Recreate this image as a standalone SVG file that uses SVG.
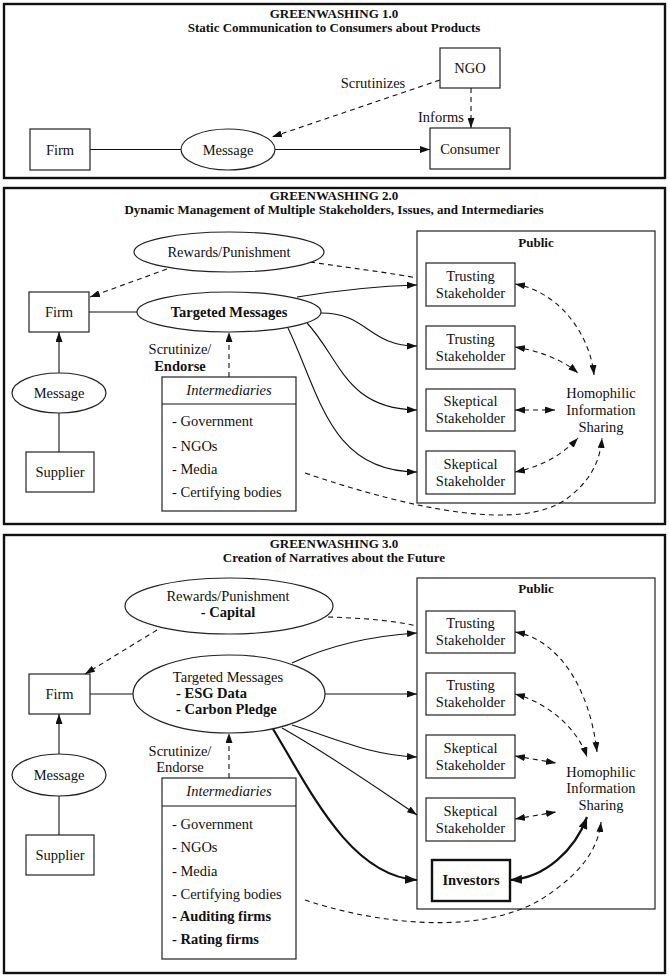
<svg xmlns="http://www.w3.org/2000/svg" width="669" height="977" viewBox="0 0 669 977">
<defs>
<style>
.panel{fill:#fff;stroke:#111;stroke-width:2.4}
.bx{fill:#fff;stroke:#222;stroke-width:1.2}
.bxT{fill:#fff;stroke:#111;stroke-width:2.4}
.t{font-family:"Liberation Serif","Times New Roman",serif;font-size:14.5px;text-anchor:middle;fill:#111}
.l{text-anchor:start}
.b{font-weight:bold}
.i{font-style:italic}
.ttl{font-family:"Liberation Serif","Times New Roman",serif;font-size:13px;font-weight:bold;text-anchor:middle;fill:#111}
.e{fill:none;stroke:#111;stroke-width:1.1}
.d{stroke-dasharray:5,4}
.th{stroke-width:2.2}
.a{marker-end:url(#ah)}
.aa{marker-start:url(#ah);marker-end:url(#ah)}
.at{marker-end:url(#ahT)}
.aat{marker-start:url(#ahT);marker-end:url(#ahT)}
</style>
<marker id="ah" markerWidth="10" markerHeight="7" refX="10" refY="3.5" orient="auto-start-reverse" markerUnits="userSpaceOnUse"><path d="M0,0L10,3.5L0,7z" fill="#111"/></marker>
<marker id="ahT" markerWidth="12" markerHeight="9" refX="12" refY="4.5" orient="auto-start-reverse" markerUnits="userSpaceOnUse"><path d="M0,0L12,4.5L0,9z" fill="#111"/></marker>
</defs>
<rect width="669" height="977" fill="#fff"/>

<!-- ===== Panel 1 ===== -->
<g id="panel1">
<rect class="panel" x="4" y="4" width="661" height="174"/>
<text class="ttl" x="334" y="18">GREENWASHING 1.0</text>
<text class="ttl" x="334" y="32">Static Communication to Consumers about Products</text>
</g>
<g id="p1-connectors">
<path class="e" d="M90,149.5H181"/>
<path class="e a" d="M275,149.5H430"/>
<path class="e d a" d="M440,80L272,137"/>
<path class="e d a" d="M471,88V128"/>
<text class="t" x="373" y="88">Scrutinizes</text>
<text class="t" x="441" y="122">Informs</text>
</g>
<g id="p1-ngo"><rect class="bx" x="440" y="48" width="60" height="40"/><text class="t" x="470" y="73">NGO</text></g>
<g id="p1-firm"><rect class="bx" x="30" y="129" width="60" height="41"/><text class="t" x="60" y="154.5">Firm</text></g>
<g id="p1-message"><ellipse class="bx" cx="228" cy="149.5" rx="47" ry="20.5"/><text class="t" x="228" y="154.5">Message</text></g>
<g id="p1-consumer"><rect class="bx" x="430" y="128" width="80" height="41"/><text class="t" x="470" y="153.5">Consumer</text></g>

<!-- ===== Panel 2 ===== -->
<g id="panel2">
<rect class="panel" x="4" y="188" width="661" height="336"/>
<text class="ttl" x="334" y="200">GREENWASHING 2.0</text>
<text class="ttl" x="334" y="214">Dynamic Management of Multiple Stakeholders, Issues, and Intermediaries</text>
</g>
<g id="p2-public">
<rect class="bx" x="417" y="231" width="238" height="272"/>
<text class="ttl" x="536" y="247">Public</text>
</g>
<g id="p2-connectors">
<path class="e d a" d="M167,269L90,297"/>
<path class="e d" d="M310,262C350,268 385,272 417,278"/>
<path class="e" d="M89,312H137"/>
<path class="e a" d="M59,373V332"/>
<path class="e" d="M59,452V413"/>
<path class="e d a" d="M229,377V332"/>
<path class="e a" d="M297,297C340,290 380,286 417,285"/>
<path class="e a" d="M321,313C368,313 368,346 417,346"/>
<path class="e a" d="M307,323C340,358 345,409 417,410"/>
<path class="e a" d="M288,328C320,395 330,472 417,472"/>
<path class="e d aa" d="M515,284C560,292 590,335 594,375"/>
<path class="e d aa" d="M515,347C545,352 565,362 578,373"/>
<path class="e d aa" d="M515,410H555"/>
<path class="e d aa" d="M515,472C545,466 565,452 578,438"/>
<path class="e d a" d="M305,473C420,512 520,530 565,500C590,482 600,462 602,438"/>
<text class="t" x="180" y="354">Scrutinize/</text>
<text class="t b" x="180" y="371">Endorse</text>
</g>
<g id="p2-rewards"><ellipse class="bx" cx="229" cy="252" rx="95" ry="20"/><text class="t" x="229" y="257">Rewards/Punishment</text></g>
<g id="p2-firm"><rect class="bx" x="29" y="292" width="60" height="40"/><text class="t" x="59" y="317">Firm</text></g>
<g id="p2-targeted"><ellipse class="bx" cx="229" cy="312" rx="92" ry="20"/><text class="t b" x="229" y="317">Targeted Messages</text></g>
<g id="p2-message"><ellipse class="bx" cx="59" cy="393" rx="47" ry="20"/><text class="t" x="59" y="398">Message</text></g>
<g id="p2-supplier"><rect class="bx" x="26" y="452" width="68" height="40"/><text class="t" x="60" y="477">Supplier</text></g>
<g id="p2-intermediaries">
<rect class="bx" x="162" y="377" width="134" height="134"/>
<path class="e" d="M162,404H296"/>
<text class="t i" x="229" y="395">Intermediaries</text>
<text class="t l" x="172" y="426">- Government</text>
<text class="t l" x="172" y="451">- NGOs</text>
<text class="t l" x="172" y="474">- Media</text>
<text class="t l" x="172" y="497">- Certifying bodies</text>
</g>
<g id="p2-trusting1"><rect class="bx" x="426" y="263" width="89" height="43"/><text class="t" x="470.5" y="281">Trusting</text><text class="t" x="470.5" y="298">Stakeholder</text></g>
<g id="p2-trusting2"><rect class="bx" x="426" y="326" width="89" height="43"/><text class="t" x="470.5" y="344">Trusting</text><text class="t" x="470.5" y="361">Stakeholder</text></g>
<g id="p2-skeptical1"><rect class="bx" x="426" y="389" width="89" height="42"/><text class="t" x="470.5" y="406">Skeptical</text><text class="t" x="470.5" y="423">Stakeholder</text></g>
<g id="p2-skeptical2"><rect class="bx" x="426" y="451" width="89" height="43"/><text class="t" x="470.5" y="469">Skeptical</text><text class="t" x="470.5" y="486">Stakeholder</text></g>
<g id="p2-homophilic"><text class="t" x="601" y="398">Homophilic</text><text class="t" x="601" y="415">Information</text><text class="t" x="601" y="432">Sharing</text></g>

<!-- ===== Panel 3 ===== -->
<g id="panel3">
<rect class="panel" x="4" y="535" width="661" height="438"/>
<text class="ttl" x="334" y="548">GREENWASHING 3.0</text>
<text class="ttl" x="334" y="562">Creation of Narratives about the Future</text>
</g>
<g id="p3-public">
<rect class="bx" x="417" y="578" width="238" height="331"/>
<text class="ttl" x="536" y="593">Public</text>
</g>
<g id="p3-connectors">
<path class="e d a" d="M157,630L85,674"/>
<path class="e d" d="M328,617C360,618 390,620 417,626"/>
<path class="e" d="M90,694H133"/>
<path class="e a" d="M59,754V714"/>
<path class="e" d="M59,835V796"/>
<path class="e d a" d="M229,778V733"/>
<path class="e a" d="M292,663C330,645 370,636 417,633"/>
<path class="e a" d="M325,694H417"/>
<path class="e a" d="M292,725C340,740 370,755 417,757"/>
<path class="e a" d="M282,728C330,755 380,790 417,815"/>
<path class="e th at" d="M273,729C310,790 350,876 417,880"/>
<path class="e d aa" d="M515,632C560,640 590,690 597,752"/>
<path class="e d aa" d="M515,694C555,705 580,735 587,757"/>
<path class="e d aa" d="M515,756L556,763"/>
<path class="e d aa" d="M515,819L556,812"/>
<path class="e th aat" d="M510,880C545,878 575,850 587,817"/>
<path class="e d a" d="M305,900C380,925 480,935 540,900C580,875 598,850 601,822"/>
<text class="t" x="180" y="756">Scrutinize/</text>
<text class="t" x="180" y="772">Endorse</text>
</g>
<g id="p3-rewards"><ellipse class="bx" cx="229" cy="606" rx="104" ry="28"/><text class="t" x="228" y="601">Rewards/Punishment</text><text class="t b" x="228" y="617">- Capital</text></g>
<g id="p3-firm"><rect class="bx" x="29" y="674" width="61" height="40"/><text class="t" x="59.5" y="699">Firm</text></g>
<g id="p3-targeted"><ellipse class="bx" cx="229" cy="694" rx="96" ry="39"/><text class="t" x="228" y="682">Targeted Messages</text><text class="t b l" x="176" y="698">- ESG Data</text><text class="t b l" x="176" y="714">- Carbon Pledge</text></g>
<g id="p3-message"><ellipse class="bx" cx="59" cy="775" rx="47" ry="21"/><text class="t" x="59" y="780">Message</text></g>
<g id="p3-supplier"><rect class="bx" x="26" y="835" width="68" height="40"/><text class="t" x="60" y="860">Supplier</text></g>
<g id="p3-intermediaries">
<rect class="bx" x="162" y="778" width="134" height="181"/>
<path class="e" d="M162,806H296"/>
<text class="t i" x="229" y="796">Intermediaries</text>
<text class="t l" x="172" y="829">- Government</text>
<text class="t l" x="172" y="852">- NGOs</text>
<text class="t l" x="172" y="876">- Media</text>
<text class="t l" x="172" y="899">- Certifying bodies</text>
<text class="t l b" x="172" y="921">- Auditing firms</text>
<text class="t l b" x="172" y="944">- Rating firms</text>
</g>
<g id="p3-trusting1"><rect class="bx" x="426" y="611" width="89" height="42"/><text class="t" x="470.5" y="628">Trusting</text><text class="t" x="470.5" y="645">Stakeholder</text></g>
<g id="p3-trusting2"><rect class="bx" x="426" y="673" width="89" height="42"/><text class="t" x="470.5" y="690">Trusting</text><text class="t" x="470.5" y="707">Stakeholder</text></g>
<g id="p3-skeptical1"><rect class="bx" x="426" y="735" width="89" height="43"/><text class="t" x="470.5" y="753">Skeptical</text><text class="t" x="470.5" y="770">Stakeholder</text></g>
<g id="p3-skeptical2"><rect class="bx" x="426" y="798" width="89" height="43"/><text class="t" x="470.5" y="816">Skeptical</text><text class="t" x="470.5" y="833">Stakeholder</text></g>
<g id="p3-investors"><rect class="bxT" x="432" y="860" width="78" height="41"/><text class="t b" x="471" y="885">Investors</text></g>
<g id="p3-homophilic"><text class="t" x="601" y="777">Homophilic</text><text class="t" x="601" y="793">Information</text><text class="t" x="601" y="810">Sharing</text></g>
</svg>
